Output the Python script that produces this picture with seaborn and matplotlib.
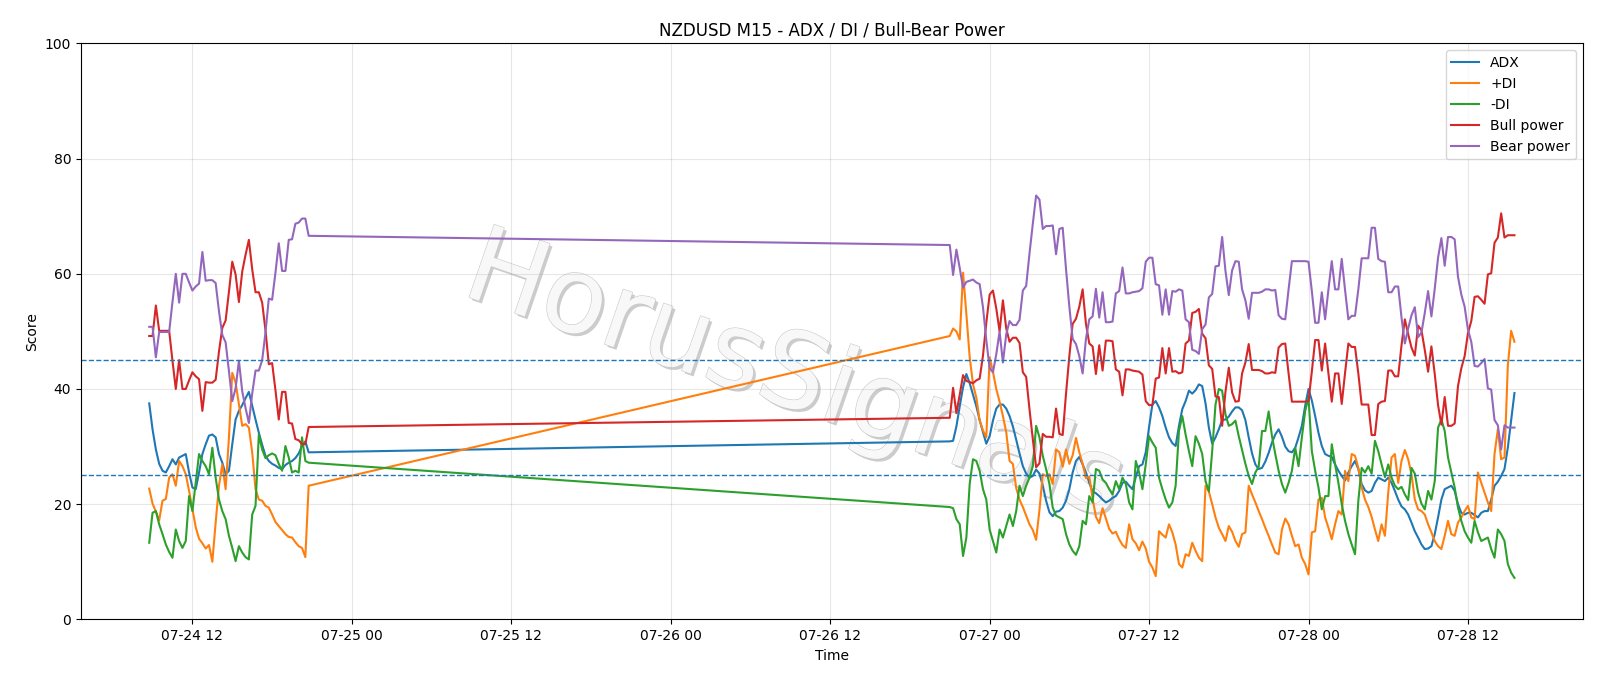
import matplotlib
matplotlib.use("Agg")
import numpy as np
import pandas as pd
import matplotlib.pyplot as plt
import matplotlib.dates as mdates
import matplotlib.patheffects as pe
import seaborn as sns

# ---- time axis (M15 bars; weekend gap between the two sessions) ----
seg1_start, seg1_count = "2020-07-24 08:45", 49
seg2_start, seg2_count = "2020-07-26 21:00", 171

# ---- series values ----
adx_1 = [37.5, 33.0, 29.5, 27.0, 25.8, 25.5, 26.6, 27.8, 26.9, 28.1,
         28.4, 28.7, 25.5, 22.9, 22.6, 25.5, 28.7, 30.4, 31.9, 32.1,
         31.6, 28.7, 27.2, 25.2, 25.8, 30.4, 34.7, 36.2, 37.2, 38.4,
         39.5, 37.1, 34.7, 32.4, 30.3, 28.4, 27.5, 27.0, 26.7, 26.3,
         26.1, 26.8, 27.2, 27.5, 28.0, 28.8, 30.1, 30.9, 29.0]
adx_2 = [30.9, 31.0, 33.5, 37.0, 40.3, 42.6, 41.0, 39.0, 37.0, 34.6,
         32.5, 30.5, 31.8, 34.5, 36.6, 37.3, 37.3, 36.6, 35.3, 33.5,
         31.2, 28.8, 26.6, 25.3, 24.6, 24.9, 26.0, 25.3, 23.2, 20.6,
         18.6, 17.9, 18.7, 18.8, 19.4, 20.6, 22.6, 25.5, 27.5, 28.2,
         26.9, 25.5, 23.7, 22.2, 21.9, 21.4, 20.8, 20.3, 20.6, 21.1,
         21.4, 22.3, 23.7, 23.9, 23.2, 22.6, 24.7, 26.6, 26.9, 29.0,
         33.4, 37.3, 37.9, 36.8, 35.3, 33.3, 31.6, 30.6, 30.1, 33.6,
         36.5, 37.9, 39.7, 39.2, 39.8, 40.8, 40.5, 37.5, 33.3, 30.5,
         31.6, 33.0, 34.6, 34.7, 35.2, 36.1, 36.8, 36.8, 36.3, 34.6,
         31.6, 28.8, 26.9, 26.1, 26.3, 27.4, 28.9, 30.7, 32.1, 33.0,
         31.7, 30.0, 29.2, 29.0, 29.8, 31.6, 33.6, 37.1, 40.0, 38.0,
         35.3, 32.4, 30.1, 28.7, 28.4, 28.2, 26.9, 25.8, 24.9, 24.1,
         25.5, 26.6, 27.5, 26.1, 23.5, 22.4, 22.0, 22.3, 23.7, 24.6,
         24.3, 24.0, 24.6, 23.7, 22.3, 20.8, 19.6, 19.1, 18.2, 16.8,
         15.3, 14.2, 13.0, 12.2, 12.3, 12.7, 14.8, 17.7, 20.8, 22.6,
         22.9, 23.2, 22.3, 20.0, 18.5, 18.2, 18.5, 18.5, 18.1, 17.7,
         18.5, 18.8, 18.8, 20.8, 23.2, 23.9, 24.9, 26.1, 29.8, 34.5,
         39.3]

pdi_1 = [22.7, 20.1, 18.7, 17.2, 20.6, 20.9, 24.6, 25.2, 23.2, 27.5,
         26.6, 25.2, 22.3, 19.1, 16.0, 14.0, 13.2, 12.3, 12.9, 10.0,
         16.8, 23.2, 26.9, 22.6, 31.6, 42.8, 41.1, 37.3, 33.6, 33.9,
         33.3, 29.0, 22.6, 20.8, 20.6, 19.7, 19.4, 18.2, 16.9, 16.2,
         15.5, 14.8, 14.3, 14.2, 13.4, 12.7, 12.4, 10.8, 23.2]
pdi_2 = [49.2, 50.5, 50.0, 48.6, 60.2, 53.0, 45.5, 40.8, 38.5, 34.5,
         32.8, 31.6, 45.5, 43.0, 40.0, 37.8, 35.3, 32.5, 27.5, 27.0,
         22.8, 20.8, 19.5, 18.0, 16.5, 15.5, 13.8, 19.0, 25.2, 24.9,
         25.2, 23.5, 29.5, 29.0, 26.5, 29.5, 27.0, 28.5, 31.5, 29.0,
         27.0, 24.5, 24.8, 21.0, 17.8, 16.7, 19.3, 17.5, 15.7, 14.9,
         15.2, 13.9, 12.9, 12.4, 16.5, 13.9, 13.2, 12.0, 13.5, 12.3,
         10.0, 9.0, 7.5, 15.3, 14.7, 14.2, 16.5, 15.1, 13.0, 9.6,
         9.0, 11.3, 11.0, 13.3, 11.9, 10.7, 10.1, 23.2, 22.2, 20.0,
         17.7, 15.9, 14.8, 13.6, 16.2, 15.2, 13.6, 12.6, 14.8, 15.1,
         23.2, 21.7, 20.3, 18.8, 17.4, 15.9, 14.5, 13.0, 11.6, 11.3,
         15.6, 17.5, 16.5, 14.5, 12.7, 13.0, 10.7, 9.6, 7.8, 15.1,
         15.3, 20.8, 21.1, 17.7, 15.9, 13.9, 16.5, 18.8, 18.2, 25.8,
         24.0, 28.7, 28.4, 26.3, 22.9, 20.8, 19.5, 17.8, 15.6, 13.6,
         16.5, 14.5, 22.0, 28.1, 28.7, 23.7, 27.5, 29.4, 27.8, 25.2,
         20.8, 19.1, 18.8, 18.2, 16.5, 15.1, 13.6, 12.7, 12.2, 14.5,
         17.1, 14.8, 14.5, 16.8, 17.7, 18.8, 19.7, 17.7, 17.4, 25.5,
         23.7, 22.0, 20.3, 18.8, 28.7, 33.0, 27.8, 28.1, 44.0, 50.1,
         48.2]

mdi_1 = [13.3, 18.5, 18.8, 16.5, 14.8, 13.0, 11.7, 10.7, 15.6, 13.6,
         12.4, 13.6, 21.4, 18.8, 23.7, 28.7, 27.5, 26.6, 25.2, 29.8,
         24.6, 20.8, 18.8, 17.4, 14.5, 12.4, 10.1, 12.7, 11.6, 10.8,
         10.4, 18.2, 19.7, 32.1, 29.5, 28.0, 28.5, 28.8, 28.5, 27.0,
         25.8, 30.1, 28.1, 25.5, 25.8, 25.5, 31.6, 27.5, 27.2]
mdi_2 = [19.5, 19.3, 17.4, 16.5, 11.0, 14.2, 23.5, 27.8, 27.5, 25.8,
         22.6, 20.8, 15.6, 13.6, 11.6, 15.6, 14.2, 16.2, 18.2, 16.2,
         18.8, 23.2, 21.4, 23.2, 24.6, 26.6, 33.6, 31.6, 28.4, 26.1,
         23.5, 19.4, 18.0, 17.7, 17.4, 14.8, 13.0, 11.9, 11.2, 12.7,
         17.1, 16.5, 21.4, 20.3, 26.1, 25.8, 24.3, 23.7, 22.6, 21.7,
         24.0, 22.6, 24.6, 23.5, 20.3, 19.1, 27.5, 25.5, 22.6, 26.9,
         31.8, 30.7, 29.8, 24.6, 22.6, 20.8, 19.4, 20.3, 23.2, 32.7,
         35.3, 32.1, 29.2, 26.6, 31.8, 30.5, 28.7, 24.0, 22.2, 29.2,
         37.3, 40.0, 39.7, 35.6, 33.6, 33.9, 34.5, 31.8, 29.4, 27.0,
         24.9, 23.5, 25.5, 26.5, 32.7, 32.7, 36.1, 31.8, 28.7, 25.8,
         23.5, 22.0, 23.7, 25.8, 29.8, 26.6, 31.6, 36.2, 38.5, 29.2,
         25.8, 22.9, 19.1, 21.4, 21.4, 30.4, 26.9, 23.7, 20.0, 17.1,
         14.8, 13.0, 11.3, 20.6, 26.3, 25.5, 26.6, 25.3, 31.0, 29.2,
         26.9, 24.7, 26.9, 24.6, 23.2, 22.6, 23.0, 21.7, 20.7, 26.3,
         25.3, 22.0, 20.1, 19.1, 22.3, 20.8, 24.0, 33.3, 34.7, 32.7,
         28.1, 25.5, 22.9, 19.4, 17.1, 15.3, 14.2, 13.3, 17.1, 15.1,
         13.6, 13.9, 14.2, 12.2, 10.7, 15.6, 14.8, 13.6, 9.6, 8.1,
         7.2]

bull_1 = [49.2, 49.2, 54.5, 50.1, 50.1, 50.1, 50.1, 44.9, 40.0, 45.0,
          40.0, 40.0, 41.5, 42.9, 42.2, 41.7, 36.2, 41.2, 41.1, 41.1,
          41.6, 46.5, 50.6, 51.9, 56.9, 62.1, 59.9, 55.1, 60.4, 63.3,
          65.9, 60.8, 56.8, 56.8, 55.0, 50.2, 44.3, 44.5, 39.8, 34.7,
          39.5, 39.5, 34.1, 34.0, 31.3, 31.1, 30.4, 30.4, 33.4]
bull_2 = [35.0, 40.2, 35.8, 39.0, 42.4, 41.4, 41.2, 41.0, 41.5, 41.8,
          45.8, 51.5, 56.4, 57.1, 54.0, 50.0, 55.4, 50.5, 48.2, 48.9,
          48.9, 48.0, 42.9, 42.1, 36.5, 31.3, 26.4, 27.1, 32.2, 31.7,
          31.7, 31.6, 36.6, 32.2, 32.0, 39.2, 45.7, 51.3, 52.2, 54.3,
          57.3, 51.3, 47.9, 47.4, 42.6, 47.6, 43.2, 48.4, 48.4, 48.3,
          43.4, 43.0, 38.9, 43.4, 43.4, 43.2, 43.1, 43.0, 42.5, 37.9,
          37.2, 37.2, 41.8, 42.0, 47.1, 42.7, 47.1, 43.0, 43.1, 42.7,
          42.9, 47.9, 48.4, 53.2, 53.4, 53.9, 49.6, 48.8, 44.1, 43.5,
          38.7, 38.6, 33.6, 39.5, 43.7, 39.4, 37.8, 37.9, 42.7, 44.6,
          47.8, 43.3, 43.3, 43.3, 43.1, 42.7, 42.7, 42.9, 42.8, 47.2,
          47.8, 47.9, 42.7, 37.8, 37.8, 37.8, 37.8, 37.8, 37.9, 43.0,
          48.5, 48.5, 43.2, 47.9, 42.7, 37.8, 42.7, 42.7, 37.4, 42.8,
          47.9, 47.3, 47.3, 42.7, 37.3, 37.3, 37.3, 32.0, 32.0, 37.4,
          37.8, 37.9, 43.2, 43.2, 42.2, 42.2, 47.6, 52.1, 49.5, 47.2,
          45.8, 51.0, 50.2, 46.8, 43.0, 47.4, 42.6, 37.2, 33.8, 38.6,
          33.6, 33.6, 34.0, 40.5, 43.6, 45.7, 49.7, 51.8, 56.0, 56.1,
          55.5, 54.8, 59.9, 60.1, 65.4, 66.3, 70.5, 66.3, 66.7, 66.7,
          66.7]

bear_1 = [50.8, 50.8, 45.5, 49.9, 49.9, 49.9, 49.9, 55.1, 60.0, 55.0,
          60.0, 60.0, 58.5, 57.1, 57.8, 58.3, 63.8, 58.8, 58.9, 58.9,
          58.4, 53.5, 49.4, 48.1, 43.1, 37.9, 40.1, 44.9, 39.6, 36.7,
          34.1, 39.2, 43.2, 43.2, 45.0, 49.8, 55.7, 55.5, 60.2, 65.3,
          60.5, 60.5, 65.9, 66.0, 68.7, 68.9, 69.6, 69.6, 66.6]
bear_2 = [65.0, 59.8, 64.2, 61.0, 57.6, 58.6, 58.8, 59.0, 58.5, 58.2,
          54.2, 48.5, 43.6, 42.9, 46.0, 50.0, 44.6, 49.5, 51.8, 51.1,
          51.1, 52.0, 57.1, 57.9, 63.5, 68.7, 73.6, 72.9, 67.8, 68.3,
          68.3, 68.4, 63.4, 67.8, 68.0, 60.8, 54.3, 48.7, 47.8, 45.7,
          42.7, 48.7, 52.1, 52.6, 57.4, 52.4, 56.8, 51.6, 51.6, 51.7,
          56.6, 57.0, 61.1, 56.6, 56.6, 56.8, 56.9, 57.0, 57.5, 62.1,
          62.8, 62.8, 58.2, 58.0, 52.9, 57.3, 52.9, 57.0, 56.9, 57.3,
          57.1, 52.1, 51.6, 46.8, 46.6, 46.1, 50.4, 51.2, 55.9, 56.5,
          61.3, 61.4, 66.4, 60.5, 56.3, 60.6, 62.2, 62.1, 57.3, 55.4,
          52.2, 56.7, 56.7, 56.7, 56.9, 57.3, 57.3, 57.1, 57.2, 52.8,
          52.2, 52.1, 57.3, 62.2, 62.2, 62.2, 62.2, 62.2, 62.1, 57.0,
          51.5, 51.5, 56.8, 52.1, 57.3, 62.2, 57.3, 57.3, 62.6, 57.2,
          52.1, 52.7, 52.7, 57.3, 62.7, 62.7, 62.7, 68.0, 68.0, 62.6,
          62.2, 62.1, 56.8, 56.8, 57.8, 57.8, 52.4, 47.9, 50.5, 52.8,
          54.2, 49.0, 49.8, 53.2, 57.0, 52.6, 57.4, 62.8, 66.2, 61.4,
          66.4, 66.4, 66.0, 59.5, 56.4, 54.3, 50.3, 48.2, 44.0, 43.9,
          44.5, 45.2, 40.1, 39.9, 34.6, 33.7, 29.5, 33.7, 33.3, 33.3,
          33.3]

series_names = ["ADX", "+DI", "-DI", "Bull power", "Bear power"]
series_colors = ["#1f77b4", "#ff7f0e", "#2ca02c", "#d62728", "#9467bd"]
levels = [45, 25]
title = "NZDUSD M15 - ADX / DI / Bull-Bear Power"
watermark = "HorusSignals"

# ---- assemble ----
times = pd.date_range(seg1_start, periods=seg1_count, freq="15min").append(
    pd.date_range(seg2_start, periods=seg2_count, freq="15min"))
cols = [adx_1 + adx_2, pdi_1 + pdi_2, mdi_1 + mdi_2, bull_1 + bull_2, bear_1 + bear_2]
for name, c in zip(series_names, cols):
    if len(c) != len(times):
        raise ValueError(f"{name}: {len(c)} values vs {len(times)} times")
df = pd.DataFrame({"time": times})
for name, c in zip(series_names, cols):
    df[name] = c

fig = plt.figure(figsize=(16, 6.86), dpi=100)
ax = fig.add_axes([0.0506, 0.0972, 0.9386, 0.8394])

for name, color in zip(series_names, series_colors):
    sns.lineplot(data=df, x="time", y=name, ax=ax, color=color, linewidth=1.5, label=name)

for lv in levels:
    ax.axhline(lv, color="#1f77b4", linestyle="--", linewidth=1)

ax.set_ylim(0, 100)
ax.set_yticks([0, 20, 40, 60, 80, 100])
ax.xaxis.set_major_locator(mdates.HourLocator(byhour=[0, 12]))
ax.xaxis.set_major_formatter(mdates.DateFormatter("%m-%d %H"))
ax.grid(True, alpha=0.3)
ax.set_title(title)
ax.set_xlabel("Time")
ax.set_ylabel("Score")
ax.legend(loc="upper right")

ax.text(0.252, 0.565, watermark, transform=ax.transAxes, fontsize=76,
        family=["Liberation Sans Narrow", "DejaVu Sans"], rotation=-19,
        rotation_mode="anchor", ha="left", va="baseline", color="#f8f8f8",
        zorder=1,
        path_effects=[pe.SimplePatchShadow(offset=(2, -2), shadow_rgbFace="#808080", alpha=0.4),
                      pe.Stroke(linewidth=0.8, foreground="#c8c8c8"), pe.Normal()])

fig.savefig("out.png", dpi=100)
